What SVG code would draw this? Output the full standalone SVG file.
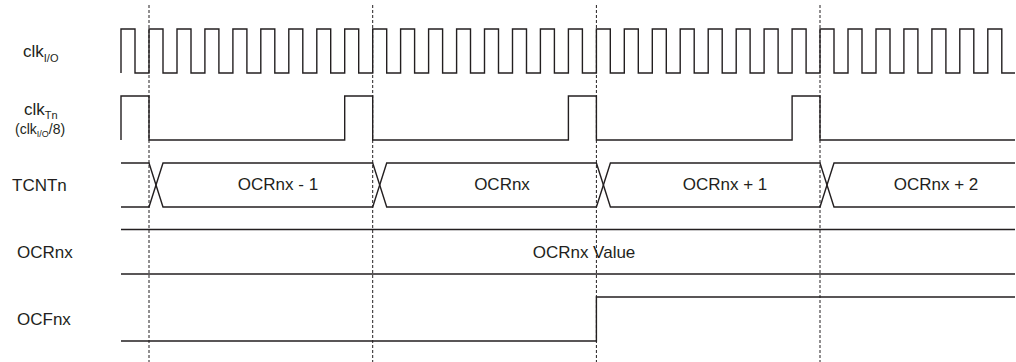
<svg xmlns="http://www.w3.org/2000/svg" width="1016" height="362" viewBox="0 0 1016 362">
<style>
.w{fill:none;stroke:#231f20;stroke-width:1.4;stroke-linejoin:miter}
.d{fill:none;stroke:#231f20;stroke-width:1;stroke-dasharray:3 2}
.t{font-family:"Liberation Sans",Arial,sans-serif;font-size:17px;fill:#231f20}
.s{font-size:11px}
.m{text-anchor:middle}
</style>
<rect width="1016" height="362" fill="#fff"/>
<g id="labels">
<text class="t" x="23" y="57">clk<tspan class="s" dy="5">I/O</tspan></text>
<text class="t" x="24" y="115">clk<tspan class="s" dy="4">Tn</tspan></text>
<text class="t" x="15" y="134" style="font-size:14px">(clk<tspan style="font-size:9px" dy="3">I/O</tspan><tspan dy="-3">/8)</tspan></text>
<text class="t" x="12" y="191">TCNTn</text>
<text class="t" x="17" y="258">OCRnx</text>
<text class="t" x="17" y="325">OCFnx</text>
</g>
<g id="clkio">
<path class="w" d="M121,73 V29 H135 V73 H149 V29 H163 V73 H177 V29 H191 V73 H204.9 V29 H218.9 V73 H232.9 V29 H246.9 V73 H260.8 V29 H274.8 V73 H288.8 V29 H302.8 V73 H316.8 V29 H330.7 V73 H344.7 V29 H358.7 V73 H372.7 V29 H386.7 V73 H400.6 V29 H414.6 V73 H428.6 V29 H442.6 V73 H456.6 V29 H470.5 V73 H484.5 V29 H498.5 V73 H512.5 V29 H526.5 V73 H540.4 V29 H554.4 V73 H568.4 V29 H582.4 V73 H596.4 V29 H610.3 V73 H624.3 V29 H638.3 V73 H652.3 V29 H666.3 V73 H680.2 V29 H694.2 V73 H708.2 V29 H722.2 V73 H736.2 V29 H750.1 V73 H764.1 V29 H778.1 V73 H792.1 V29 H806.1 V73 H820 V29 H834 V73 H848 V29 H862 V73 H876 V29 H890 V73 H903.9 V29 H917.9 V73 H931.9 V29 H945.9 V73 H959.8 V29 H973.8 V73 H987.8 V29 H1001.8 V73 H1015"/>
</g>
<g id="clktn">
<path class="w" d="M121,140 V96 H149 V140 H344.7 V96 H372.7 V140 H568.4 V96 H596.4 V140 H792.1 V96 H820 V140 H1015"/>
</g>
<g id="tcntn">
<path class="w" d="M121,163 H149 L163,207 H372.7 L386.7,163 H596.4 L610.4,207 H820 L834,163 H1015"/>
<path class="w" d="M121,207 H149 L163,163 H372.7 L386.7,207 H596.4 L610.4,163 H820 L834,207 H1015"/>
<text class="t m" x="278" y="190">OCRnx - 1</text>
<text class="t m" x="502" y="190">OCRnx</text>
<text class="t m" x="725" y="190">OCRnx + 1</text>
<text class="t m" x="936" y="190">OCRnx + 2</text>
</g>
<g id="ocrnx">
<path class="w" d="M121,229.5 H1015 M121,274 H1015"/>
<text class="t m" x="584" y="258">OCRnx Value</text>
</g>
<g id="ocfnx">
<path class="w" d="M121,341 H596.4 V297 H1015"/>
</g>
<g id="connectors">
<path class="d" d="M149,5 V362 M372.7,5 V362 M596.4,5 V362 M820,5 V362"/>
</g>
</svg>
